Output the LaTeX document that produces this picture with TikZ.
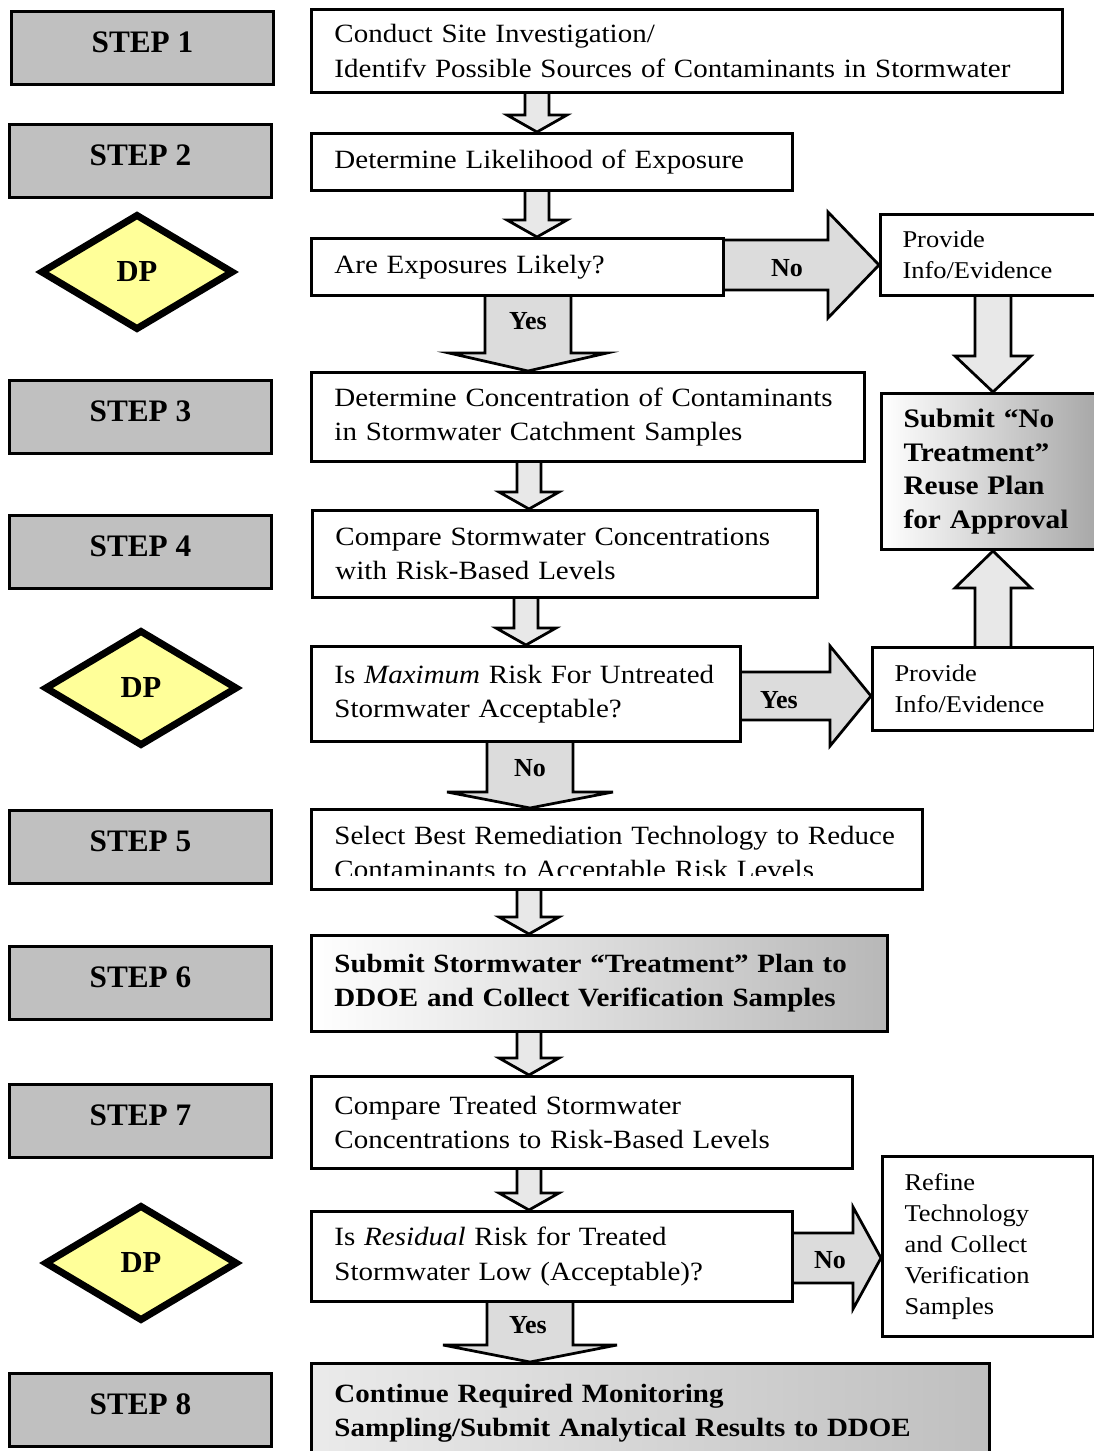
\documentclass[tikz,border=0pt]{standalone}
\usepackage{fontspec}
\setmainfont{Liberation Serif}[FakeStretch=1.1]
\newfontfamily\plainserif{Liberation Serif}
\usetikzlibrary{shapes.geometric,calc}
\pgfdeclarelayer{bg}
\pgfsetlayers{bg,main}
\definecolor{stepgray}{HTML}{C0C0C0}
\definecolor{dpyellow}{HTML}{FFFF99}
\definecolor{arrsmall}{HTML}{E8E8E8}
\definecolor{arrbig}{HTML}{DCDCDC}

% down block arrow: from, to, axis x, shaft half, head half, head length, fill
\newcommand\darrow[7]{%
  \path (#3,0) coordinate (ax);
  \begin{pgfonlayer}{bg}
  \draw[blockarrow, fill=#7]
    ($(#1.south -| ax)+(-#4,-6)$) -- ($(#2.north -| ax)+(-#4,-#6)$) --
    ($(#2.north -| ax)+(-#5,-#6)$) -- (#2.north -| ax) --
    ($(#2.north -| ax)+(#5,-#6)$) -- ($(#2.north -| ax)+(#4,-#6)$) --
    ($(#1.south -| ax)+(#4,-6)$) -- cycle;
  \end{pgfonlayer}}
% up block arrow
\newcommand\uarrow[7]{%
  \path (#3,0) coordinate (ax);
  \begin{pgfonlayer}{bg}
  \draw[blockarrow, fill=#7]
    ($(#1.north -| ax)+(-#4,6)$) -- ($(#2.south -| ax)+(-#4,#6)$) --
    ($(#2.south -| ax)+(-#5,#6)$) -- (#2.south -| ax) --
    ($(#2.south -| ax)+(#5,#6)$) -- ($(#2.south -| ax)+(#4,#6)$) --
    ($(#1.north -| ax)+(#4,6)$) -- cycle;
  \end{pgfonlayer}}
% right block arrow: from, to, axis y, shaft half, head half, head length, fill
\newcommand\rarrow[7]{%
  \path (0,#3) coordinate (ay);
  \begin{pgfonlayer}{bg}
  \draw[blockarrow, fill=#7]
    ($(#1.east |- ay)+(-6,-#4)$) -- ($(#2.west |- ay)+(-#6,-#4)$) --
    ($(#2.west |- ay)+(-#6,-#5)$) -- (#2.west |- ay) --
    ($(#2.west |- ay)+(-#6,#5)$) -- ($(#2.west |- ay)+(-#6,#4)$) --
    ($(#1.east |- ay)+(-6,#4)$) -- cycle;
  \end{pgfonlayer}}

\begin{document}
\begin{tikzpicture}[x=0.02cm, y=-0.02cm,
  stepbox/.style={draw, line width=0.06cm, fill=stepgray, anchor=north west,
    minimum width=5.24cm, minimum height=1.46cm, inner sep=0pt,
    font=\plainserif\fontsize{17.8}{20}\selectfont\bfseries, text height=10pt, text depth=5pt},
  dpnode/.style={diamond, draw, line width=0.14cm, fill=dpyellow,
    minimum width=3.86cm, minimum height=2.32cm, inner sep=0pt,
    font=\plainserif\fontsize{17.4}{20}\selectfont\bfseries},
  mainbox/.style={draw, line width=0.06cm, fill=white, anchor=north west, align=left,
    inner xsep=0.46cm, inner ysep=0pt, font=\fontsize{15}{19.4}\selectfont},
  sidebox/.style={mainbox, inner xsep=0.44cm, font=\fontsize{13.7}{17.6}\selectfont},
  arrowlabel/.style={font=\plainserif\fontsize{14.8}{17}\selectfont\bfseries, inner sep=0pt},
  blockarrow/.style={draw, line width=0.055cm, line join=miter},
]
\useasboundingbox (0,0) rectangle (1094,1451);

% left column
\node[stepbox] (s1) at (10,10) {STEP 1};
\node[stepbox] (s2) at (8,123) {STEP 2};
\node[dpnode] (dp1) at (137,272) {DP};
\node[stepbox] (s3) at (8,379) {STEP 3};
\node[stepbox] (s4) at (8,514) {STEP 4};
\node[dpnode] (dp2) at (141,688) {DP};
\node[stepbox] (s5) at (8,809) {STEP 5};
\node[stepbox] (s6) at (8,945) {STEP 6};
\node[stepbox] (s7) at (8,1083) {STEP 7};
\node[dpnode] (dp3) at (141,1263) {DP};
\node[stepbox] (s8) at (8,1372) {STEP 8};

% main column
\node[mainbox, text width=14.10cm, minimum height=1.66cm] (b1) at (310,8)
  {Conduct Site Investigation/\\Identifv Possible Sources of Contaminants in Stormwater};
\node[mainbox, text width=8.70cm, minimum height=1.14cm] (b2) at (310,132)
  {Determine Likelihood of Exposure};
\node[mainbox, text width=7.32cm, minimum height=1.14cm] (b3) at (310,237)
  {Are Exposures Likely?};
\node[mainbox, text width=10.14cm, minimum height=1.78cm] (b4) at (310,371)
  {Determine Concentration of Contaminants\\in Stormwater Catchment Samples};
\node[mainbox, text width=9.18cm, minimum height=1.74cm] (b5) at (311,509)
  {Compare Stormwater Concentrations\\with Risk-Based Levels};
\node[mainbox, text width=7.66cm, minimum height=1.90cm] (b6) at (310,645)
  {Is \textit{Maximum} Risk For Untreated\\Stormwater Acceptable?};
\node[mainbox, text width=11.30cm, minimum height=1.60cm] (b7) at (310,808)
  {\parbox[t][1.60cm][t]{11.30cm}{\vspace*{0.33cm}Select Best Remediation Technology to Reduce\\Contaminants to Acceptable Risk Levels}};
\fill[white] (313,876) rectangle (918,886);
\node[mainbox, left color=white, right color=black!28, text width=10.60cm, minimum height=1.92cm, font=\fontsize{15}{19.3}\selectfont\bfseries] (b8) at (310,934)
  {Submit Stormwater “Treatment” Plan to\\DDOE and Collect Verification Samples};
\node[mainbox, text width=9.90cm, minimum height=1.84cm] (b9) at (310,1075)
  {Compare Treated Stormwater\\Concentrations to Risk-Based Levels};
\node[mainbox, text width=8.70cm, minimum height=1.80cm] (b10) at (310,1210)
  {Is \textit{Residual} Risk for Treated\\Stormwater Low (Acceptable)?};
\node[mainbox, left color=white!92!black, right color=black!25, text width=12.64cm, minimum height=2.00cm, font=\fontsize{15}{19.3}\selectfont\bfseries] (b11) at (310,1362)
  {Continue Required Monitoring\\Sampling/Submit Analytical Results to DDOE};

% right column
\node[sidebox, text width=3.54cm, minimum height=1.62cm] (p1) at (879,213)
  {Provide\\Info/Evidence};
\node[mainbox, inner xsep=0.44cm, left color=white, right color=black!35, text width=3.52cm, minimum height=3.12cm, font=\fontsize{15.2}{19.2}\selectfont\bfseries] (sub) at (880,392)
  {Submit “No\\Treatment”\\Reuse Plan\\for Approval};
\node[sidebox, text width=3.56cm, minimum height=1.66cm] (p2) at (871,646)
  {Provide\\Info/Evidence};
\node[sidebox, text width=3.34cm, minimum height=3.60cm] (r) at (881,1155)
  {Refine\\Technology\\and Collect\\Verification\\Samples};

% block arrows
\darrow{b1}{b2}{537}{12}{30}{17}{arrsmall}
\darrow{b2}{b3}{537}{12}{30}{17}{arrsmall}
\darrow{b3}{b4}{528}{43}{79}{18}{arrbig}
\rarrow{b3}{p1}{265}{25}{53}{51}{arrbig}
\darrow{p1}{sub}{993}{18}{38}{36}{arrsmall}
\darrow{b4}{b5}{529}{12}{30}{17}{arrsmall}
\darrow{b5}{b6}{526}{12}{30}{17}{arrsmall}
\rarrow{b6}{p2}{696}{24}{50}{41}{arrbig}
\uarrow{p2}{sub}{993}{18}{38}{37}{arrsmall}
\darrow{b6}{b7}{530}{43}{83}{16}{arrbig}
\darrow{b7}{b8}{529}{12}{30}{17}{arrsmall}
\darrow{b8}{b9}{529}{12}{30}{17}{arrsmall}
\darrow{b9}{b10}{529}{12}{30}{17}{arrsmall}
\rarrow{b10}{r}{1258}{25}{51}{28}{arrbig}
\darrow{b10}{b11}{530}{43}{87}{17}{arrbig}

% arrow labels
\node[arrowlabel] (l1) at (528,321) {Yes};
\node[arrowlabel] (l2) at (787,268) {No};
\node[arrowlabel] (l3) at (779,700) {Yes};
\node[arrowlabel] (l4) at (530,768) {No};
\node[arrowlabel] (l5) at (830,1260) {No};
\node[arrowlabel] (l6) at (528,1325) {Yes};
\end{tikzpicture}
\end{document}
